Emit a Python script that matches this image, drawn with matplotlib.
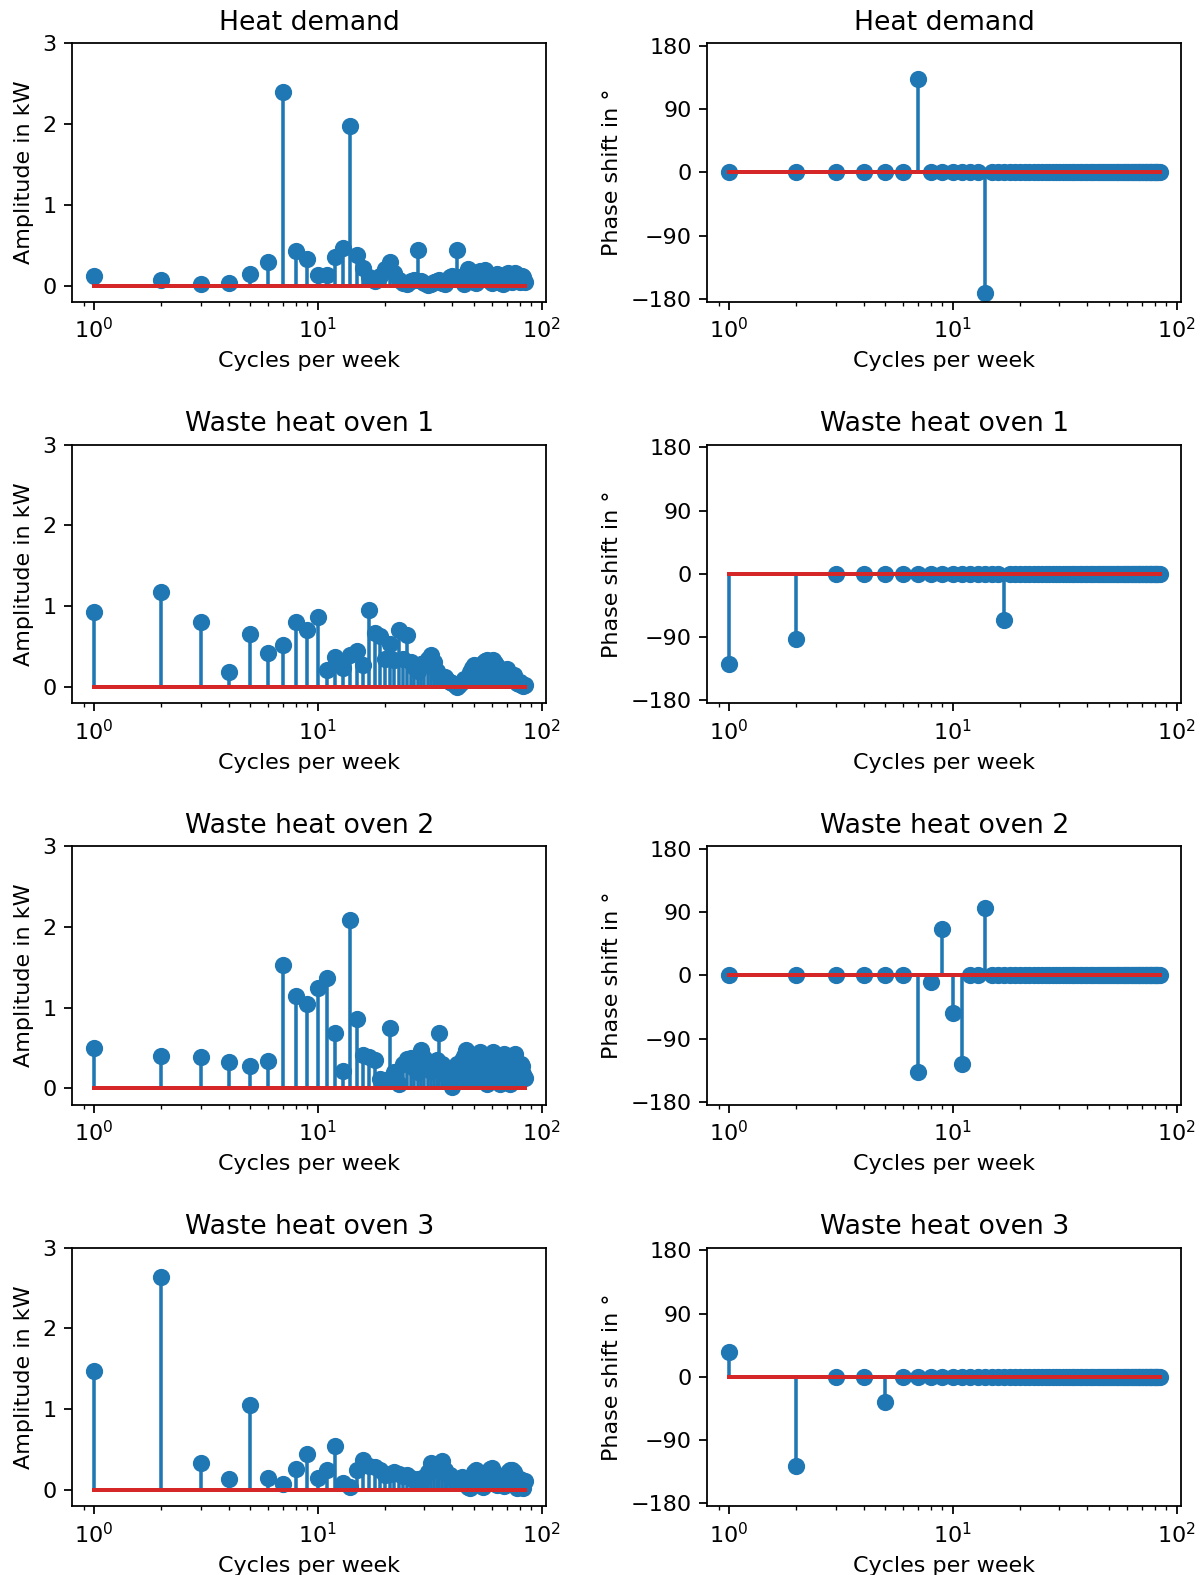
import matplotlib
matplotlib.use("Agg")
import matplotlib.pyplot as plt
import numpy as np

# cycles per week (1 .. 84)
freqs = np.arange(1, 85)

titles = ["Heat demand", "Waste heat oven 1", "Waste heat oven 2", "Waste heat oven 3"]

# amplitude spectra in kW, one value per frequency
amp_heat = [0.12, 0.07, 0.02, 0.03, 0.14, 0.29, 2.40, 0.43, 0.33, 0.13,
            0.13, 0.35, 0.47, 1.97, 0.38, 0.22, 0.10, 0.06, 0.12, 0.20,
            0.29, 0.15, 0.07, 0.03, 0.02, 0.05, 0.07, 0.44, 0.06, 0.03,
            0.01, 0.02, 0.04, 0.05, 0.07, 0.03, 0.02, 0.05, 0.10, 0.12,
            0.08, 0.44, 0.10, 0.05, 0.02, 0.14, 0.21, 0.18, 0.10, 0.04,
            0.03, 0.15, 0.18, 0.17, 0.12, 0.19, 0.16, 0.10, 0.05, 0.03,
            0.08, 0.12, 0.14, 0.10, 0.06, 0.03, 0.02, 0.06, 0.10, 0.14,
            0.15, 0.13, 0.08, 0.04, 0.10, 0.15, 0.14, 0.11, 0.07, 0.04,
            0.08, 0.12, 0.10, 0.04]
amp_oven1 = [0.93, 1.18, 0.81, 0.19, 0.65, 0.42, 0.52, 0.80, 0.70, 0.87,
             0.21, 0.37, 0.24, 0.40, 0.44, 0.27, 0.95, 0.67, 0.63, 0.35,
             0.53, 0.33, 0.70, 0.35, 0.64, 0.31, 0.25, 0.20, 0.28, 0.30,
             0.35, 0.39, 0.31, 0.20, 0.15, 0.10, 0.12, 0.08, 0.06, 0.05,
             0.02, 0.00, 0.03, 0.06, 0.10, 0.08, 0.12, 0.18, 0.24, 0.27,
             0.24, 0.20, 0.22, 0.26, 0.30, 0.32, 0.33, 0.30, 0.28, 0.32,
             0.33, 0.30, 0.26, 0.22, 0.18, 0.15, 0.12, 0.16, 0.20, 0.22,
             0.18, 0.14, 0.10, 0.12, 0.15, 0.10, 0.07, 0.05, 0.04, 0.06,
             0.04, 0.02, 0.01, 0.02]
amp_oven2 = [0.50, 0.40, 0.39, 0.33, 0.28, 0.34, 1.53, 1.14, 1.05, 1.24,
             1.37, 0.68, 0.22, 2.09, 0.86, 0.41, 0.39, 0.35, 0.12, 0.10,
             0.75, 0.20, 0.06, 0.30, 0.37, 0.38, 0.25, 0.20, 0.47, 0.38,
             0.30, 0.22, 0.28, 0.35, 0.68, 0.30, 0.25, 0.15, 0.08, 0.02,
             0.15, 0.30, 0.25, 0.35, 0.40, 0.48, 0.42, 0.30, 0.20, 0.12,
             0.30, 0.42, 0.45, 0.38, 0.25, 0.15, 0.05, 0.10, 0.22, 0.35,
             0.45, 0.38, 0.28, 0.18, 0.05, 0.12, 0.30, 0.42, 0.35, 0.22,
             0.10, 0.05, 0.18, 0.30, 0.38, 0.42, 0.30, 0.20, 0.10, 0.22,
             0.30, 0.28, 0.18, 0.13]
amp_oven3 = [1.47, 2.64, 0.33, 0.13, 1.05, 0.15, 0.07, 0.26, 0.45, 0.15,
             0.25, 0.54, 0.08, 0.04, 0.24, 0.37, 0.30, 0.28, 0.24, 0.18,
             0.20, 0.22, 0.20, 0.17, 0.19, 0.15, 0.12, 0.14, 0.10, 0.16,
             0.22, 0.33, 0.28, 0.25, 0.30, 0.36, 0.25, 0.20, 0.18, 0.15,
             0.12, 0.10, 0.14, 0.16, 0.12, 0.08, 0.04, 0.02, 0.10, 0.22,
             0.24, 0.18, 0.10, 0.05, 0.03, 0.12, 0.18, 0.22, 0.26, 0.27,
             0.20, 0.12, 0.06, 0.10, 0.15, 0.12, 0.08, 0.05, 0.10, 0.18,
             0.22, 0.24, 0.20, 0.25, 0.22, 0.12, 0.05, 0.02, 0.10, 0.13,
             0.10, 0.05, 0.02, 0.11]

# phase shifts in degrees: only the non-zero entries (all others are 0)
phase_heat = {7: 133, 14: -171}
phase_oven1 = {1: -128, 2: -93, 17: -65}
phase_oven2 = {7: -137, 8: -10, 9: 66, 10: -54, 11: -126, 14: 96}
phase_oven3 = {1: 35, 2: -127, 5: -36}

amplitudes = [amp_heat, amp_oven1, amp_oven2, amp_oven3]
phases = [phase_heat, phase_oven1, phase_oven2, phase_oven3]

DPI = 160
fig, axs = plt.subplots(4, 2, figsize=(1204 / DPI, 1575 / DPI), dpi=DPI)
fig.subplots_adjust(left=0.060, right=0.981, top=0.9726, bottom=0.0438,
                    wspace=0.34, hspace=0.553)


def draw_stem(ax, x, y):
    markers, stems, base = ax.stem(x, y)
    markers.set_markersize(6.75)
    stems.set_linewidth(1.6)
    base.set_linewidth(1.8)


for i in range(4):
    # amplitude
    ax = axs[i, 0]
    draw_stem(ax, freqs, amplitudes[i])
    ax.set_xscale('log')
    ax.set_ylim(-0.2, 3)
    ax.set_yticks([0, 1, 2, 3])
    ax.set_title(titles[i])
    ax.set_xlabel('Cycles per week')
    ax.set_ylabel('Amplitude in kW')

    # phase
    ph = np.zeros(len(freqs))
    for f, v in phases[i].items():
        ph[f - 1] = v
    ax = axs[i, 1]
    draw_stem(ax, freqs, ph)
    ax.set_xscale('log')
    ax.set_ylim(-184, 184)
    ax.set_yticks([-180, -90, 0, 90, 180])
    ax.set_title(titles[i])
    ax.set_xlabel('Cycles per week')
    ax.set_ylabel('Phase shift in °')

fig.savefig('out.png', dpi=DPI)
